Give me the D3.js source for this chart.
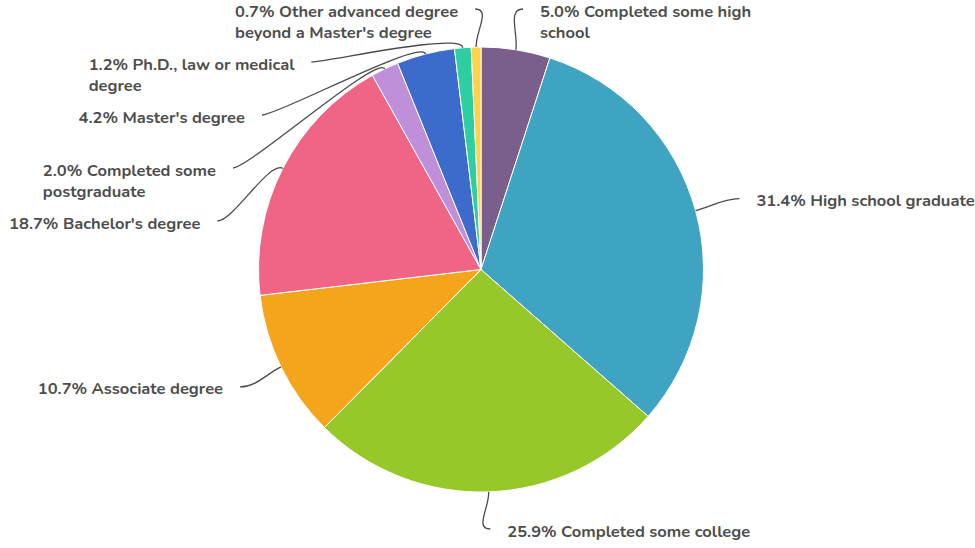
<!DOCTYPE html>
<html>
<head>
<meta charset="utf-8">
<script src="https://cdn.jsdelivr.net/npm/d3@7"></script>
<style>
  html, body { margin: 0; padding: 0; background: #fff; }
  svg text { font-family: "Nunito", Lato, "Open Sans", sans-serif; font-weight: 700; }
</style>
</head>
<body>
<svg id="chart" width="975" height="548"></svg>
<script>
// Educational attainment shares, clockwise from 12 o'clock
const categories = [
  "Completed some high school",
  "High school graduate",
  "Completed some college",
  "Associate degree",
  "Bachelor's degree",
  "Completed some postgraduate",
  "Master's degree",
  "Ph.D., law or medical degree",
  "Other advanced degree beyond a Master's degree"
];
const shares = [5.0, 31.4, 25.9, 10.7, 18.7, 2.0, 4.2, 1.2, 0.7];
const sliceColors = ["#7a5e8c", "#3fa3c2", "#95c828", "#f5a51b", "#f06486",
                     "#bf8fda", "#3d6bcb", "#2dcfa1", "#fdd347"];
// Wrapped label lines (text as printed beside each slice)
const labelLines = [
  ["5.0% Completed some high", "school"],
  ["31.4% High school graduate"],
  ["25.9% Completed some college"],
  ["10.7% Associate degree"],
  ["18.7% Bachelor's degree"],
  ["2.0% Completed some", "postgraduate"],
  ["4.2% Master's degree"],
  ["1.2% Ph.D., law or medical", "degree"],
  ["0.7% Other advanced degree", "beyond a Master's degree"]
];

const cx = 481, cy = 269.5, r = 222.5;
const labelR = 268;      // radius of the circle the label anchors sit on
const minGap = 53;       // minimum vertical distance between anchors on one side
const yTop = 9, yBottom = 529;
const lineH = 21;
const padLeft = 17, padRight = 17;

const svg = d3.select("#chart");
const g = svg.append("g").attr("transform", `translate(${cx},${cy})`);

const data = categories.map((c, i) => ({ name: c, value: shares[i], color: sliceColors[i], lines: labelLines[i] }));
const pie = d3.pie().sort(null).value(d => d.value);
const arcs = pie(data);
const arc = d3.arc().innerRadius(0).outerRadius(r);

g.selectAll("path.slice")
  .data(arcs)
  .join("path")
  .attr("class", "slice")
  .attr("d", arc)
  .attr("fill", d => d.data.color)
  .attr("stroke", "#ffffff")
  .attr("stroke-width", 1)
  .attr("stroke-linejoin", "round");

// ---- label layout ----
const items = arcs.map(a => {
  const mid = (a.startAngle + a.endAngle) / 2;
  const left = Math.sin(mid) < 0;
  const idealY = cy - labelR * Math.cos(mid);
  return { a, mid, left, idealY, y: idealY };
});

["left", "right"].forEach(side => {
  const group = items.filter(d => (side === "left") === d.left).sort((p, q) => p.idealY - q.idealY);
  let prev = -Infinity;
  group.forEach(d => {
    d.y = Math.max(d.idealY, yTop, prev + minGap);
    prev = d.y;
  });
  let next = Infinity;
  for (let k = group.length - 1; k >= 0; k--) {
    const d = group[k];
    d.y = Math.min(d.y, yBottom, next - minGap);
    next = d.y;
  }
});

items.forEach(d => {
  const sign = d.left ? -1 : 1;
  if (Math.abs(d.y - d.idealY) < 10) {
    d.x = cx + labelR * Math.sin(d.mid);
  } else {
    const dy = d.y - cy;
    d.x = cx + sign * Math.sqrt(Math.max(0, labelR * labelR - dy * dy));
  }
});

// ---- connectors ----
const conn = svg.append("g")
  .attr("fill", "none")
  .attr("stroke", "#4a4a4a")
  .attr("stroke-width", 1.3);

items.forEach(d => {
  const sx = Math.sin(d.mid), sy = -Math.cos(d.mid);
  const ax = cx + r * sx, ay = cy + r * sy;
  const bx = cx + (r + 16) * sx, by = cy + (r + 16) * sy;
  const sign = d.left ? -1 : 1;
  const ex = d.x, ey = d.y;
  const c2x = ex - sign * 16, c2y = ey;
  conn.append("path")
    .attr("d", `M${ax},${ay} C${bx},${by} ${c2x},${c2y} ${ex},${ey}`);
});

// ---- labels (left-aligned text blocks) ----
const labels = svg.append("g")
  .attr("fill", "#4d4d4d")
  .attr("font-size", 16.5);

items.forEach(d => {
  const t = labels.append("text").attr("y", d.y + 7.5);
  const spans = d.a.data.lines.map((line, k) =>
    t.append("tspan").attr("dy", k === 0 ? 0 : lineH).text(line));
  const widest = d3.max(spans, s => s.node().getComputedTextLength());
  const x0 = d.left ? d.x - padLeft - widest : d.x + padRight;
  spans.forEach(s => s.attr("x", x0));
});
</script>
</body>
</html>
